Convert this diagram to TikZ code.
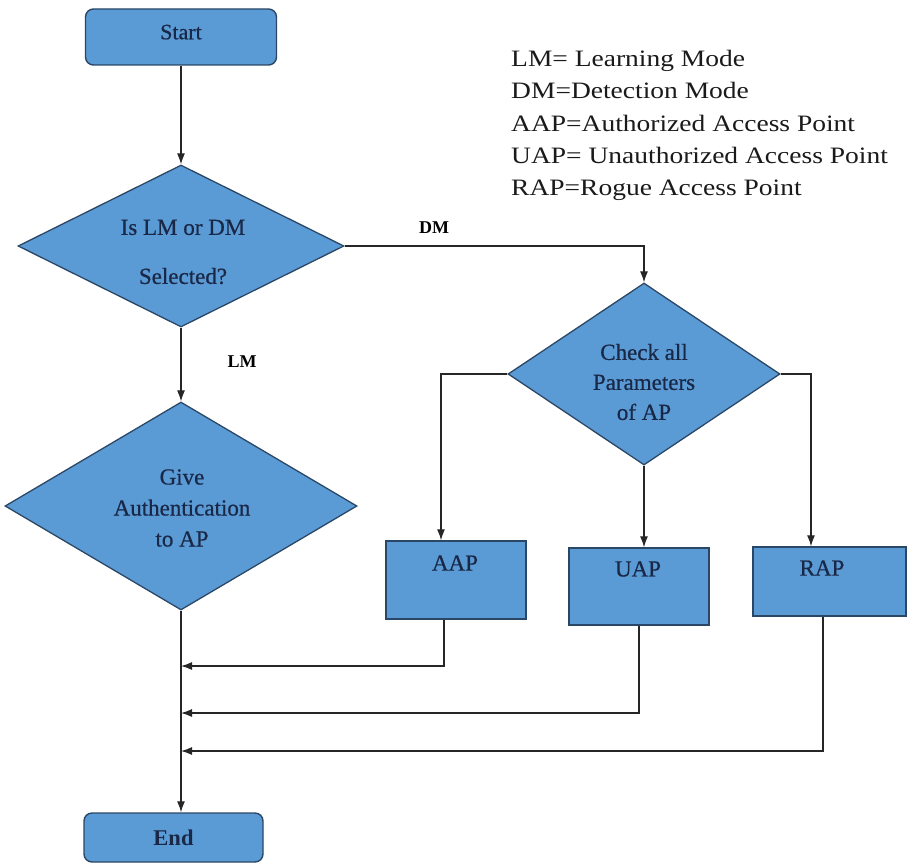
\documentclass[tikz,border=0pt]{standalone}
\usepackage{fontspec}
\setmainfont{Liberation Serif}
\newfontfamily\legfont[FakeStretch=1.17]{Liberation Serif}
\newfontfamily\boxfont[FakeBold=0.6]{Liberation Serif}
\usetikzlibrary{shapes.geometric,arrows.meta}
\definecolor{boxfill}{HTML}{5B9BD5}
\definecolor{boxline}{HTML}{2B4766}
\definecolor{boxtext}{HTML}{1A2848}
\definecolor{legtext}{HTML}{1A1A1A}
\begin{document}
\begin{tikzpicture}[x=1pt,y=-1pt,
  flowline/.style={line width=1.2pt, draw=black!85},
  arr/.style={flowline, -{Latex[length=11pt,width=8pt]}},
  roundbox/.style={draw=boxline, fill=boxfill, line width=1.4pt, rounded corners=8pt, inner sep=0pt, text=boxtext},
  rectbox/.style={draw=boxline, fill=boxfill, line width=1.4pt, inner sep=0pt},
  decision/.style={diamond, draw=boxline, fill=boxfill, line width=1.3pt, inner sep=0pt},
  boxlabel/.style={text=boxtext, inner sep=0pt, align=center},
  branchlabel/.style={font=\bfseries\fontsize{18}{22}\selectfont, inner sep=0pt},
  legend/.style={anchor=base west, inner sep=0pt, text=legtext, font=\legfont\fontsize{23.5}{28}\selectfont}]

\useasboundingbox (0,0) rectangle (909,864);

% nodes
\node[roundbox, minimum width=191pt, minimum height=56pt, text depth=10pt,
      font=\boxfont\fontsize{22}{26}\selectfont] (start) at (181,37) {Start};

\node[decision, minimum width=326pt, minimum height=162pt] (d1) at (181,246) {};
\node[boxlabel, font=\boxfont\fontsize{23}{49}\selectfont] (d1t) at (183,252) {Is LM or DM\\Selected?};

\node[decision, minimum width=272pt, minimum height=182pt] (d2) at (644,374) {};
\node[boxlabel, font=\boxfont\fontsize{23}{30}\selectfont] (d2t) at (644,382) {Check all\\Parameters\\of AP};

\node[decision, minimum width=352pt, minimum height=208pt] (d3) at (181,506) {};
\node[boxlabel, font=\boxfont\fontsize{23}{31}\selectfont] (d3t) at (182,508) {Give\\Authentication\\to AP};

\node[rectbox, minimum width=140pt, minimum height=78pt] (aap) at (456,580) {};
\node[boxlabel, font=\boxfont\fontsize{23}{28}\selectfont] (aapt) at (455,563) {AAP};

\node[rectbox, minimum width=140pt, minimum height=77pt] (uap) at (639,586.5) {};
\node[boxlabel, font=\boxfont\fontsize{23}{28}\selectfont] (uapt) at (638,569) {UAP};

\node[rectbox, minimum width=153pt, minimum height=69pt] (rap) at (829.5,581.5) {};
\node[boxlabel, font=\boxfont\fontsize{23}{28}\selectfont] (rapt) at (822,568) {RAP};

\node[roundbox, minimum width=179pt, minimum height=49pt,
      font=\bfseries\fontsize{22.5}{27}\selectfont] (end) at (173.5,837.5) {End};

% branch labels
\node[branchlabel] (dmlab) at (434,228) {DM};
\node[branchlabel] (lmlab) at (242,362) {LM};

% legend
\node[legend] (leg1) at (511,66.5) {LM= Learning Mode};
\node[legend] (leg2) at (511,98.8) {DM=Detection Mode};
\node[legend] (leg3) at (511,131.1) {AAP=Authorized Access Point};
\node[legend] (leg4) at (511,163.4) {UAP= Unauthorized Access Point};
\node[legend] (leg5) at (511,195.7) {RAP=Rogue Access Point};

% junction points on the main line
\coordinate (j1) at (181,666);
\coordinate (j2) at (181,713);
\coordinate (j3) at (181,751);

% connectors
\draw[arr] (start.south) -- (start.south |- d1.north);
\draw[arr] (d1.south) -- (d1.south |- d3.north);
\draw[arr] (d1.east) -| (d2.north);
\draw[arr] (d2.west) -| ([xshift=-15pt]aap.north);
\draw[arr] (d2.south) -- (d2.south |- uap.north);
\draw[arr] (d2.east) -| ([xshift=-18.5pt]rap.north);
\draw[arr] (d3.south) -- (d3.south |- end.north);
\draw[arr] ([xshift=-12pt]aap.south) |- (j1);
\draw[arr] (uap.south) |- (j2);
\draw[arr] ([xshift=-6.5pt]rap.south) |- (j3);
\end{tikzpicture}
\end{document}
